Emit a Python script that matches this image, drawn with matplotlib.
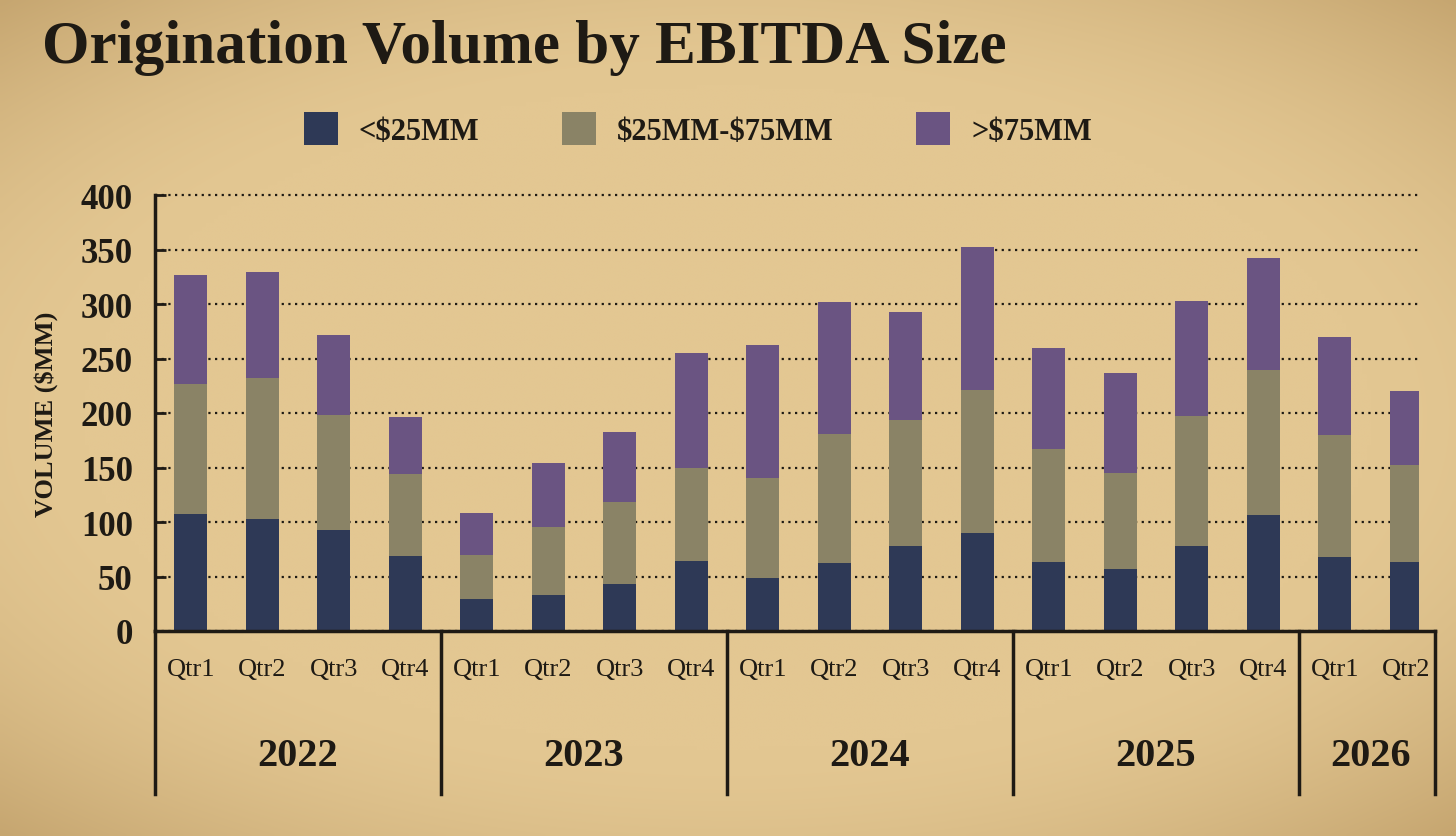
import numpy as np
import matplotlib
matplotlib.use("Agg")
import matplotlib.pyplot as plt
from matplotlib.transforms import blended_transform_factory
from matplotlib.patches import Patch

plt.rcParams["text.parse_math"] = False

# ---- data ----
years = ["2022", "2023", "2024", "2025", "2026"]
quarters_per_year = [4, 4, 4, 4, 2]
quarter_labels = ["Qtr1", "Qtr2", "Qtr3", "Qtr4"] * 4 + ["Qtr1", "Qtr2"]
series_names = ["<$25MM", "$25MM-$75MM", ">$75MM"]
small = [107, 103, 93, 69, 29, 33, 43, 64, 49, 62, 78, 90, 63, 57, 78, 106, 68, 63]
mid = [120, 129, 105, 75, 41, 62, 75, 86, 91, 119, 116, 131, 104, 88, 119, 133, 112, 89]
large = [100, 97, 74, 52, 38, 59, 65, 105, 122, 121, 99, 131, 93, 92, 106, 103, 90, 68]
yticks = [0, 50, 100, 150, 200, 250, 300, 350, 400]

colors = ["#2E3956", "#8A8366", "#6A5482"]
bg = "#E2C690"
ink = "#1E1A14"
SERIF = ["Liberation Serif", "DejaVu Serif"]

W, H = 1456, 837
fig = plt.figure(figsize=(W / 100, H / 100), dpi=100)
fig.patch.set_facecolor(bg)

# subtle parchment vignette (decorative background)
bax = fig.add_axes([0, 0, 1, 1], zorder=-10)
yy, xx = np.mgrid[-1:1:200j, -1:1:350j]
r = np.sqrt((xx * 0.9) ** 2 + (yy * 1.0) ** 2)
v = np.clip((r - 0.8) / 0.7, 0, 1) ** 1.6
base = np.array([0xE3, 0xC7, 0x92]) / 255.0
edge = np.array([0xB8, 0x96, 0x60]) / 255.0
img = base[None, None, :] * (1 - v[..., None]) + edge[None, None, :] * v[..., None]
bax.imshow(img, aspect="auto", extent=[0, 1, 0, 1], interpolation="bilinear")
bax.set_axis_off()

left_px, right_px, top_px, bot_px = 155, 1419, 196, 632
ax = fig.add_axes([left_px / W, 1 - bot_px / H, (right_px - left_px) / W, (bot_px - top_px) / H])
ax.set_facecolor("none")

n = len(small)
x = np.arange(n)
step_px = 71.5
xmax = (right_px - left_px) / step_px - 0.5
width = 0.46

bottoms = np.zeros(n)
for vals, c, name in zip([small, mid, large], colors, series_names):
    ax.bar(x, vals, width=width, bottom=bottoms, color=c, edgecolor="none", zorder=3, label=name)
    bottoms = bottoms + np.array(vals)

ax.set_xlim(-0.5, xmax)
ax.set_ylim(0, 400)
ax.set_yticks(yticks)
ax.set_yticklabels([str(t) for t in yticks], fontfamily=SERIF, fontsize=25, fontweight="bold", color=ink)
ax.tick_params(axis="y", direction="in", length=8, width=2, color=ink, pad=16)
ax.set_xticks([])
ax.yaxis.grid(True, linestyle=(0, (1, 2)), linewidth=1.6, color=ink, zorder=1)
for gl in ax.get_ygridlines():
    gl.set_clip_on(False)
for s in ["top", "right", "bottom"]:
    ax.spines[s].set_visible(False)
ax.spines["left"].set_linewidth(2.5)
ax.spines["left"].set_color(ink)

ax.set_ylabel("VOLUME ($MM)", fontfamily=SERIF, fontsize=19, fontweight="bold", color=ink, labelpad=16)

# category axis (two-level)
tr = blended_transform_factory(ax.transData, ax.transAxes)
ax_h = bot_px - top_px
def yfrac(py):
    return (bot_px - py) / ax_h

right_edge = xmax + 16 / step_px
ax.plot([-0.5, right_edge], [0, 0], transform=tr, color=ink, lw=2.5, clip_on=False, zorder=5)
y_div = yfrac(795)
bounds = [-0.5]
acc = 0
for q in quarters_per_year:
    acc += q
    bounds.append(acc - 0.5)
bounds[-1] = right_edge
for b in bounds:
    ax.plot([b, b], [0, y_div], transform=tr, color=ink, lw=2.5, clip_on=False, zorder=5)

for i, lab in enumerate(quarter_labels):
    ax.text(i, yfrac(670), lab, transform=tr, ha="center", va="center",
            fontfamily=SERIF, fontsize=19, color=ink)

start = 0
for yr, q in zip(years, quarters_per_year):
    ax.text(start + (q - 1) / 2, yfrac(757), yr, transform=tr, ha="center", va="center",
            fontfamily=SERIF, fontsize=29, fontweight="bold", color=ink)
    start += q

# title
fig.text(42 / W, 1 - 48 / H, "Origination Volume by EBITDA Size", ha="left", va="center",
         fontfamily=SERIF, fontsize=44, fontweight="bold", color=ink)

# legend
handles = [Patch(facecolor=c, edgecolor="none") for c in colors]
leg = fig.legend(handles, series_names, loc="center", bbox_to_anchor=(698 / W, 1 - 130 / H),
                 ncol=3, frameon=False, prop={"family": SERIF, "size": 22, "weight": "bold"},
                 handlelength=1.1, handleheight=1.3, handletextpad=0.7, columnspacing=2.7)
for t in leg.get_texts():
    t.set_color(ink)

fig.savefig("out.png", dpi=100, facecolor=fig.get_facecolor())
